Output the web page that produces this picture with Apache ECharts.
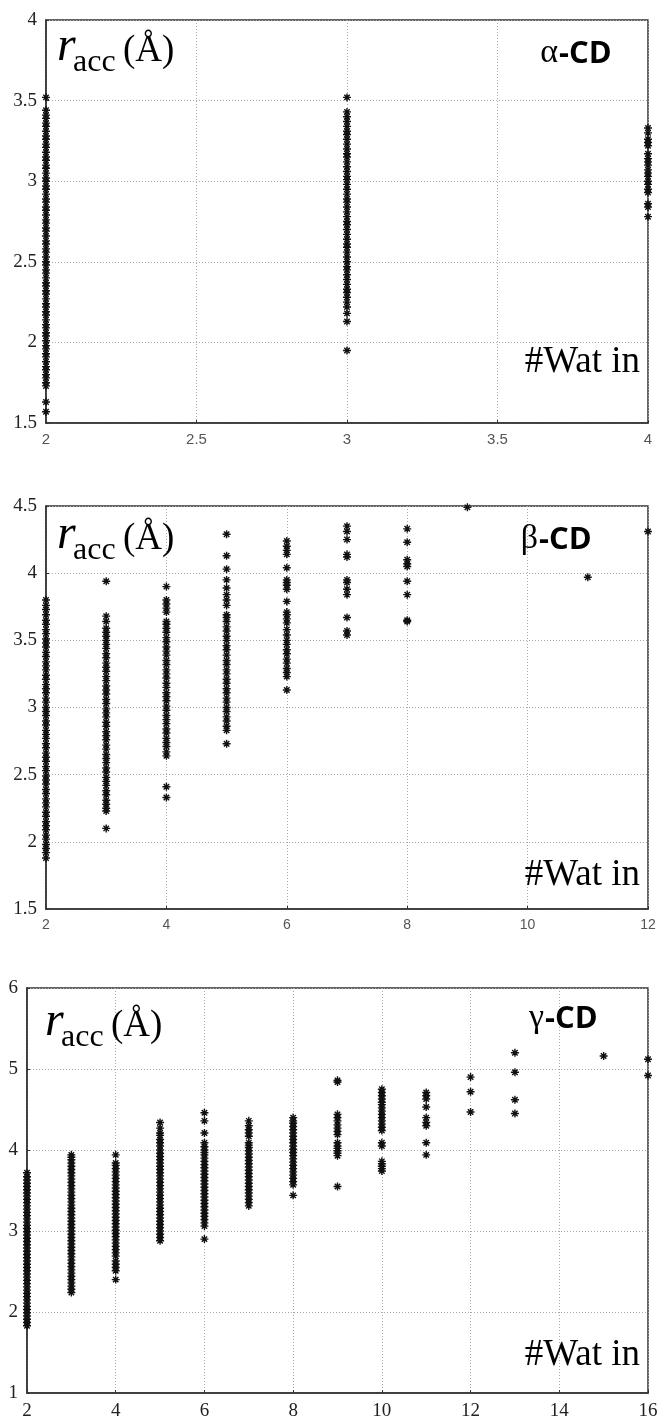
<!DOCTYPE html>
<html><head><meta charset="utf-8">
<script src="https://cdn.jsdelivr.net/npm/echarts@6/dist/echarts.min.js"></script>
<style>html,body{margin:0;padding:0;background:#fff}#c{width:661px;height:1421px}</style>
</head><body><div id="c"></div><script>
// ---- data: r_acc (Å) values per number of waters inside ----
const alpha_w2 = [1.57,1.63,1.73,1.75,1.78,1.80,1.83,1.85,1.88,1.91,1.93,1.96,1.98,2.01,2.04,2.06,2.09,2.11,2.14,2.17,2.19,2.22,2.24,2.27,2.30,2.32,2.35,2.37,2.40,2.43,2.45,2.48,2.50,2.53,2.56,2.58,2.61,2.63,2.66,2.69,2.71,2.74,2.76,2.79,2.82,2.84,2.87,2.89,2.92,2.95,2.97,3.00,3.02,3.05,3.08,3.10,3.13,3.15,3.18,3.21,3.23,3.26,3.28,3.31,3.34,3.36,3.39,3.41,3.44,3.52];
const alpha_w3 = [1.95,2.13,2.18,2.22,2.25,2.28,2.31,2.33,2.36,2.39,2.42,2.45,2.47,2.50,2.53,2.56,2.59,2.61,2.64,2.67,2.70,2.73,2.75,2.78,2.81,2.84,2.87,2.89,2.92,2.95,2.98,3.01,3.03,3.06,3.09,3.12,3.15,3.17,3.20,3.23,3.26,3.29,3.31,3.34,3.37,3.40,3.43,3.52];
const alpha_w4 = [2.78,2.84,2.86,2.93,2.95,2.98,3.00,3.03,3.05,3.07,3.10,3.12,3.14,3.17,3.22,3.24,3.26,3.30,3.33];

const beta_w2 = [1.88,1.92,1.95,1.98,2.02,2.05,2.09,2.12,2.15,2.19,2.22,2.26,2.29,2.32,2.36,2.39,2.43,2.46,2.49,2.53,2.56,2.60,2.63,2.66,2.70,2.73,2.77,2.80,2.83,2.87,2.90,2.94,2.97,3.00,3.04,3.07,3.11,3.14,3.17,3.21,3.24,3.28,3.31,3.34,3.38,3.41,3.45,3.48,3.51,3.55,3.58,3.62,3.65,3.69,3.73,3.76,3.80];
const beta_w3 = [2.10,2.23,2.25,2.28,2.31,2.35,2.38,2.42,2.45,2.48,2.52,2.55,2.59,2.62,2.65,2.69,2.72,2.76,2.79,2.82,2.86,2.89,2.93,2.96,2.99,3.03,3.06,3.10,3.13,3.16,3.20,3.23,3.27,3.30,3.33,3.37,3.40,3.44,3.47,3.50,3.53,3.56,3.59,3.64,3.68,3.94];
const beta_w4 = [2.33,2.41,2.64,2.67,2.71,2.74,2.77,2.81,2.84,2.88,2.91,2.94,2.98,3.01,3.05,3.08,3.11,3.15,3.18,3.22,3.25,3.28,3.32,3.35,3.39,3.42,3.45,3.49,3.52,3.56,3.59,3.62,3.64,3.71,3.74,3.77,3.80,3.90];
const beta_w5 = [2.73,2.83,2.86,2.90,2.93,2.97,3.00,3.04,3.07,3.11,3.14,3.18,3.21,3.25,3.28,3.32,3.35,3.39,3.43,3.46,3.50,3.53,3.57,3.60,3.64,3.67,3.69,3.76,3.80,3.84,3.89,3.95,4.03,4.13,4.29];
const beta_w6 = [3.13,3.23,3.26,3.29,3.33,3.36,3.40,3.43,3.47,3.50,3.54,3.58,3.63,3.66,3.69,3.71,3.79,3.88,3.91,3.93,3.95,4.04,4.14,4.17,4.20,4.24];
const beta_w7 = [3.54,3.57,3.67,3.84,3.88,3.93,3.95,4.12,4.14,4.25,4.31,4.35];
const beta_w8 = [3.64,3.65,3.84,3.94,4.05,4.07,4.10,4.23,4.33];
const beta_w9 = [4.49];
const beta_w11 = [3.97];
const beta_w12 = [4.31];

const gamma_w2 = [1.83,1.87,1.91,1.95,1.99,2.03,2.07,2.11,2.15,2.19,2.23,2.27,2.31,2.35,2.39,2.43,2.47,2.51,2.55,2.59,2.63,2.67,2.71,2.75,2.79,2.83,2.87,2.91,2.95,2.99,3.03,3.07,3.11,3.15,3.19,3.23,3.27,3.31,3.35,3.39,3.43,3.47,3.51,3.55,3.59,3.63,3.67,3.72];
const gamma_w3 = [2.24,2.28,2.32,2.36,2.40,2.44,2.48,2.52,2.56,2.60,2.64,2.68,2.72,2.76,2.80,2.84,2.88,2.92,2.96,3.00,3.04,3.08,3.12,3.16,3.20,3.24,3.28,3.32,3.36,3.40,3.44,3.48,3.52,3.56,3.60,3.64,3.68,3.72,3.76,3.80,3.84,3.88,3.91,3.94];
const gamma_w4 = [2.40,2.51,2.55,2.59,2.63,2.69,2.73,2.77,2.81,2.85,2.89,2.93,2.97,3.01,3.05,3.09,3.13,3.17,3.21,3.25,3.29,3.33,3.37,3.41,3.45,3.49,3.53,3.57,3.61,3.65,3.69,3.73,3.77,3.81,3.84,3.94];
const gamma_w5 = [2.88,2.92,2.96,3.00,3.04,3.08,3.12,3.16,3.20,3.24,3.28,3.32,3.36,3.40,3.44,3.48,3.52,3.56,3.60,3.64,3.68,3.72,3.76,3.80,3.84,3.88,3.92,3.96,4.00,4.05,4.09,4.13,4.18,4.21,4.27,4.34];
const gamma_w6 = [2.90,3.06,3.10,3.14,3.18,3.22,3.26,3.30,3.34,3.38,3.42,3.46,3.50,3.54,3.58,3.62,3.66,3.70,3.74,3.78,3.82,3.86,3.90,3.94,3.97,4.00,4.04,4.09,4.21,4.36,4.46];
const gamma_w7 = [3.31,3.35,3.39,3.43,3.47,3.51,3.55,3.59,3.63,3.67,3.71,3.75,3.79,3.83,3.87,3.91,3.95,3.99,4.03,4.06,4.09,4.17,4.21,4.25,4.30,4.36];
const gamma_w8 = [3.44,3.57,3.61,3.65,3.69,3.73,3.77,3.81,3.85,3.89,3.93,3.97,4.01,4.05,4.09,4.13,4.17,4.21,4.25,4.29,4.33,4.36,4.40];
const gamma_w9 = [3.55,3.93,3.96,3.99,4.02,4.05,4.09,4.19,4.23,4.27,4.31,4.36,4.40,4.44,4.84,4.86];
const gamma_w10 = [3.74,3.77,3.80,3.83,3.86,4.05,4.09,4.24,4.28,4.32,4.36,4.40,4.44,4.48,4.52,4.56,4.59,4.63,4.67,4.71,4.75];
const gamma_w11 = [3.94,4.09,4.30,4.34,4.40,4.53,4.63,4.67,4.71];
const gamma_w12 = [4.47,4.72,4.90];
const gamma_w13 = [4.45,4.62,4.96,5.20];
const gamma_w15 = [5.16];
const gamma_w16 = [4.92,5.12];

// ---- build point lists ----
function col(x, arr){ return arr.map(v => [x, v]); }
const alphaData = [].concat(col(2,alpha_w2), col(3,alpha_w3), col(4,alpha_w4));
const betaData = [].concat(col(2,beta_w2), col(3,beta_w3), col(4,beta_w4), col(5,beta_w5), col(6,beta_w6),
  col(7,beta_w7), col(8,beta_w8), col(9,beta_w9), col(11,beta_w11), col(12,beta_w12));
const gammaData = [].concat(col(2,gamma_w2), col(3,gamma_w3), col(4,gamma_w4), col(5,gamma_w5), col(6,gamma_w6),
  col(7,gamma_w7), col(8,gamma_w8), col(9,gamma_w9), col(10,gamma_w10), col(11,gamma_w11), col(12,gamma_w12),
  col(13,gamma_w13), col(15,gamma_w15), col(16,gamma_w16));

const panelX = [{min:2,max:4,interval:0.5},{min:2,max:12,interval:2},{min:2,max:16,interval:2}];
const panelY = [{min:1.5,max:4,interval:0.5},{min:1.5,max:4.5,interval:0.5},{min:1,max:6,interval:1}];

const SERIF = '"Liberation Serif","DejaVu Serif",serif';
const SANS = '"Liberation Sans","DejaVu Sans",sans-serif';
const BOLD = '"Open Sans","Liberation Sans",sans-serif';
const STAR = 'path://M0 5L10 5M5 0L5 10M1.6 1.6L8.4 8.4M8.4 1.6L1.6 8.4';

const grids = [
  {left:46, right:13, top:20, height:403},
  {left:46, right:13, top:506, height:403},
  {left:27, right:13, top:988, height:406}
];
const xFonts = [
  {fontFamily:SANS, fontSize:15, color:'#555'},
  {fontFamily:SANS, fontSize:14, color:'#555'},
  {fontFamily:SERIF, fontSize:19, color:'#222'}
];

const chart = echarts.init(document.getElementById('c'), null, {renderer:'canvas'});

function texts(){
  const g = [];
  function t(x, y, text, font, align){
    g.push({type:'text', x:x, y:y, silent:true, z:100,
      style:{text:text, font:font, fill:'#000', textAlign:align||'left', align:align||'left',
             textVerticalAlign:'middle', verticalAlign:'middle'}});
  }
  // r_acc (Å) labels: [left x, baseline y]
  const rl = [[57,62],[57,550],[45,1037]];
  rl.forEach(p => {
    t(p[0], p[1]-14.6, 'r', 'italic 48px ' + SERIF);
    t(p[0]+16, p[1]+10-9.8, 'acc', '32px ' + SERIF);
    t(p[0]+66, p[1]+0.5-11.3, '(Å)', '37px ' + SERIF);
  });
  // CD labels
  const cd = [['α',558,54],['β',538,540],['γ',544,1019]];
  cd.forEach(c => {
    t(c[1], c[2]-1, c[0], '34px ' + SERIF, 'right');
    t(c[1]+1, c[2], '-CD', 'bold 31px ' + BOLD, 'left');
  });
  // #Wat in
  [362, 875, 1355].forEach(y => t(640, y, '#Wat in', '37px ' + SERIF, 'right'));
  return g;
}

const option = {
  animation:false,
  backgroundColor:'#fff',
  grid: grids.map(g => Object.assign({show:true, borderColor:'#333', borderWidth:1.5, backgroundColor:'transparent'}, g)),
  xAxis: panelX.map((p,i) => ({
    type:'value', gridIndex:i, min:p.min, max:p.max, interval:p.interval,
    axisLine:{show:true, onZero:false, lineStyle:{color:'#333', width:1.5}},
    axisTick:{show:true, inside:true, length:3, lineStyle:{color:'#333'}},
    axisLabel:Object.assign({margin:9, showMinLabel:true, showMaxLabel:true}, xFonts[i]),
    splitLine:{show:true, lineStyle:{color:'#aaa', width:1, type:[1,2]}}
  })),
  yAxis: panelY.map((p,i) => ({
    type:'value', gridIndex:i, min:p.min, max:p.max, interval:p.interval,
    axisLine:{show:true, onZero:false, lineStyle:{color:'#333', width:1.5}},
    axisTick:{show:true, inside:true, length:3, lineStyle:{color:'#333'}},
    axisLabel:{margin:9, fontFamily:SERIF, fontSize:19, color:'#222', showMinLabel:true, showMaxLabel:true},
    splitLine:{show:true, lineStyle:{color:'#aaa', width:1, type:[1,2]}}
  })),
  series: [alphaData, betaData, gammaData].map((d,i) => ({
    type:'scatter', xAxisIndex:i, yAxisIndex:i, data:d,
    symbol:STAR, symbolSize:8, clip:false,
    itemStyle:{color:'none', borderColor:'#111', borderWidth:1.4, opacity:1}
  })),
  graphic: texts()
};
chart.setOption(option);
</script></body></html>
